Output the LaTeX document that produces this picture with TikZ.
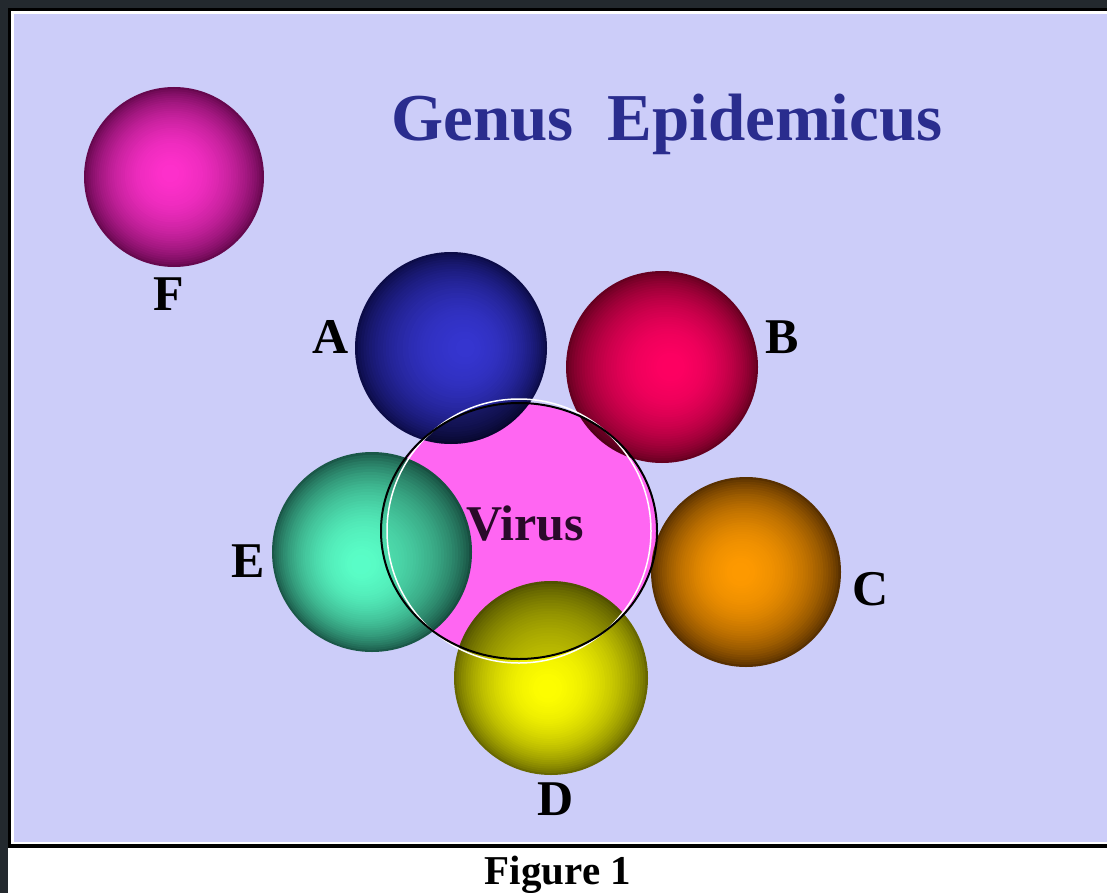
\documentclass[tikz,border=0pt]{standalone}
\usepackage{fontspec}
\setmainfont{Liberation Serif}
\definecolor{frameDark}{HTML}{23292E}
\definecolor{panel}{HTML}{CCCDF9}
\definecolor{titleBlue}{HTML}{2A2D8E}
\definecolor{virusPink}{HTML}{FF66F2}
\definecolor{virusText}{HTML}{2A0A2A}
\definecolor{Fin}{HTML}{FF30CC}\definecolor{Fout}{HTML}{66084E}
\definecolor{Ain}{HTML}{3535D0}\definecolor{Aout}{HTML}{0C0C48}
\definecolor{Bin}{HTML}{FF0062}\definecolor{Bout}{HTML}{660020}
\definecolor{Cin}{HTML}{FF9A00}\definecolor{Cout}{HTML}{583000}
\definecolor{Din}{HTML}{FFFF00}\definecolor{Dout}{HTML}{686800}
\definecolor{Ein}{HTML}{5AFFC8}\definecolor{Eout}{HTML}{1A5848}
\newcommand\drawsphere[7]{%
  \foreach \k in {0,...,40}{%
    \pgfmathsetmacro\rfr{1-\k/40}%
    \pgfmathtruncatemacro\mixp{100*(1-\rfr*\rfr)^0.8}%
    \fill[#6!\mixp!#7] ({#1+#4*(1-\rfr)},{#2+#5*(1-\rfr)}) circle[radius={#3*\rfr}];
  }}
\begin{document}
\begin{tikzpicture}[x=1pt,y=-1pt,
  lbl/.style={font=\fontsize{50}{50}\selectfont\bfseries, text=black, inner sep=0pt, anchor=base},
  ttl/.style={font=\fontsize{67}{67}\selectfont\bfseries, text=titleBlue, inner sep=0pt, anchor=base},
  figcap/.style={font=\fontsize{41}{41}\selectfont\bfseries, text=black, inner sep=0pt, anchor=base}]
\useasboundingbox (0,0) rectangle (1107,893);
% frame
\fill[frameDark] (0,0) rectangle (1107,893);
\fill[white] (8,848) rectangle (1107,893);
\fill[black] (8,8) rectangle (1110,848);
\fill[white] (11,11) rectangle (1110,844);
\fill[panel] (14,14) rectangle (1110,842);
% virus disk
\fill[virusPink] (519,531) ellipse[x radius=138, y radius=128];
% spheres
\drawsphere{174}{177}{90}{-4}{-4}{Fin}{Fout}
\drawsphere{451}{348}{96}{16}{0}{Ain}{Aout}
\drawsphere{662}{367}{96}{10}{0}{Bin}{Bout}
\drawsphere{746}{572}{95}{-6}{0}{Cin}{Cout}
\drawsphere{551}{678}{97}{-4}{12}{Din}{Dout}
\drawsphere{372}{552}{100}{-12}{14}{Ein}{Eout}
% darkening inside the virus
\begin{scope}
  \clip (519,531) ellipse[x radius=138, y radius=128];
  \fill[black, opacity=0.35] (451,348) circle[radius=96];
  \fill[black, opacity=0.2] (662,367) circle[radius=96];
  \fill[black, opacity=0.22] (551,678) circle[radius=97];
  \fill[black, opacity=0.1] (372,552) circle[radius=100];
\end{scope}
% virus outline
\draw[white, line width=1.5] (519,531) circle[radius=132];
\draw[black, line width=2] (519,531) ellipse[x radius=138, y radius=128];
% texts
\node[ttl] (title) at (667,141) {Genus\ \ Epidemicus};
\node[lbl] (labF) at (169,310) {F};
\node[lbl] (labA) at (331,353) {A};
\node[lbl] (labB) at (782,353) {B};
\node[lbl] (labC) at (871,605) {C};
\node[lbl] (labD) at (556,815) {D};
\node[lbl] (labE) at (248,577) {E};
\node[lbl, text=virusText] (virus) at (525,540) {Virus};
\node[figcap] (fig) at (558,884) {Figure 1};
\end{tikzpicture}
\end{document}
